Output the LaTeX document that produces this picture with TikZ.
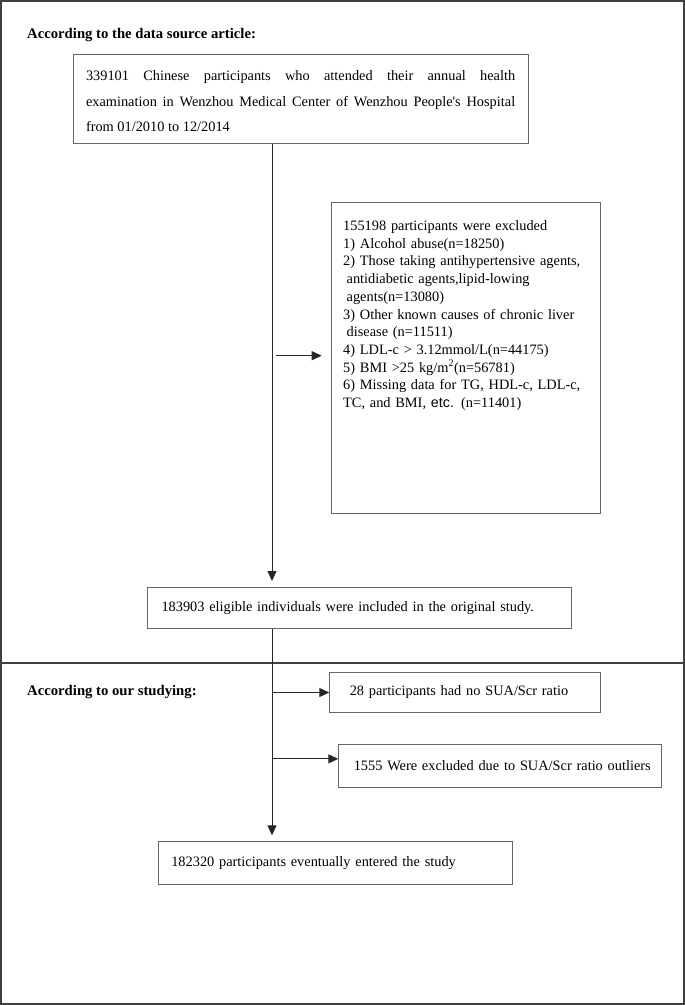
\documentclass[tikz,border=0pt]{standalone}
\usepackage{fontspec}
\setmainfont{Liberation Serif}[Ligatures=TeXOff]
\newfontfamily\etcfont{Liberation Sans}
\usetikzlibrary{arrows.meta, positioning, calc}
\hyphenpenalty=10000

\begin{document}
\begin{tikzpicture}[x=1pt, y=-1pt,
  frame/.style={draw=black!75, line width=2pt},
  divider/.style={draw=black!75, line width=1.2pt},
  box/.style={rectangle, draw=black!60, line width=1pt, anchor=north west,
    inner ysep=0pt, align=left, font=\fontsize{14.35}{17.7}\selectfont},
  head/.style={anchor=base west, inner sep=0pt,
    font=\fontsize{14.7}{17.7}\selectfont\bfseries},
  arr/.style={-{Triangle[length=10pt, width=9pt]}, line width=1pt, black!85},
]
\useasboundingbox (0,0) rectangle (685,1005);
\draw[frame] (1,1) rectangle (684,1004);
\draw[divider] (0,663) -- (685,663);

\node[head] (src) at (27,38.3) {According to the data source article:};
\node[head] (our) at (27,695) {According to our studying:};

\node[box, align=justify, inner xsep=13pt, text width=429.2pt,
  text height=25.7pt, text depth=62.5pt,
  font=\fontsize{14.35}{25.5}\selectfont] (cohort) at (72.5,54.3)
  {339101 Chinese participants who attended their annual health\linebreak
   examination in Wenzhou Medical Center of Wenzhou People's Hospital\linebreak
   from 01/2010 to 12/2014};

\node[box, inner xsep=12pt, text width=245.3pt,
  text height=28pt, text depth=282.7pt] (excl) at (330.7,202)
  {155198 participants were excluded\\
   1) Alcohol abuse(n=18250)\\
   2) Those taking antihypertensive agents,\\
   \hspace*{3.5pt}antidiabetic agents,lipid-lowing\\
   \hspace*{3.5pt}agents(n=13080)\\
   3) Other known causes of chronic liver\\
   \hspace*{3.5pt}disease (n=11511)\\
   4) LDL-c > 3.12mmol/L(n=44175)\\
   5) BMI >25 kg/m\textsuperscript{2}(n=56781)\\
   6) Missing data for TG, HDL-c, LDL-c,\\
   TC, and BMI, {\etcfont etc.} (n=11401)};

\node[box, inner xsep=14pt, text width=395.5pt, minimum height=41pt]
  (eligible) at (147,587)
  {\mbox{183903 eligible individuals were included in the original study.}};

\node[box, inner xsep=20pt, text width=230.7pt, minimum height=40.6pt]
  (noratio) at (329.3,671.7) {\mbox{28 participants had no SUA/Scr ratio}};

\node[box, inner xsep=15pt, text width=292.4pt, minimum height=42.7pt]
  (outlier) at (338.3,744) {\mbox{1555 Were excluded due to SUA/Scr ratio outliers}};

\node[box, inner xsep=13pt, text width=328.2pt, minimum height=43pt]
  (final) at (157.8,841.3) {\mbox{182320 participants eventually entered the study}};

% trunk and branch points
\coordinate (trunk) at (272,0);
\coordinate (j1) at (275.7,355.7);
\coordinate (j2) at ([yshift=7pt]outlier.west);

\draw[arr, shorten >=6pt] (cohort.south -| trunk) -- (eligible.north -| trunk);
\draw[arr, shorten >=9pt] (j1) -- (j1 -| excl.west);
\draw[arr, shorten >=6pt] (eligible.south -| trunk) -- (final.north -| trunk);
\draw[arr] (noratio.west -| trunk) -- (noratio.west);
\draw[arr] (j2 -| trunk) -- (j2);

\end{tikzpicture}
\end{document}
